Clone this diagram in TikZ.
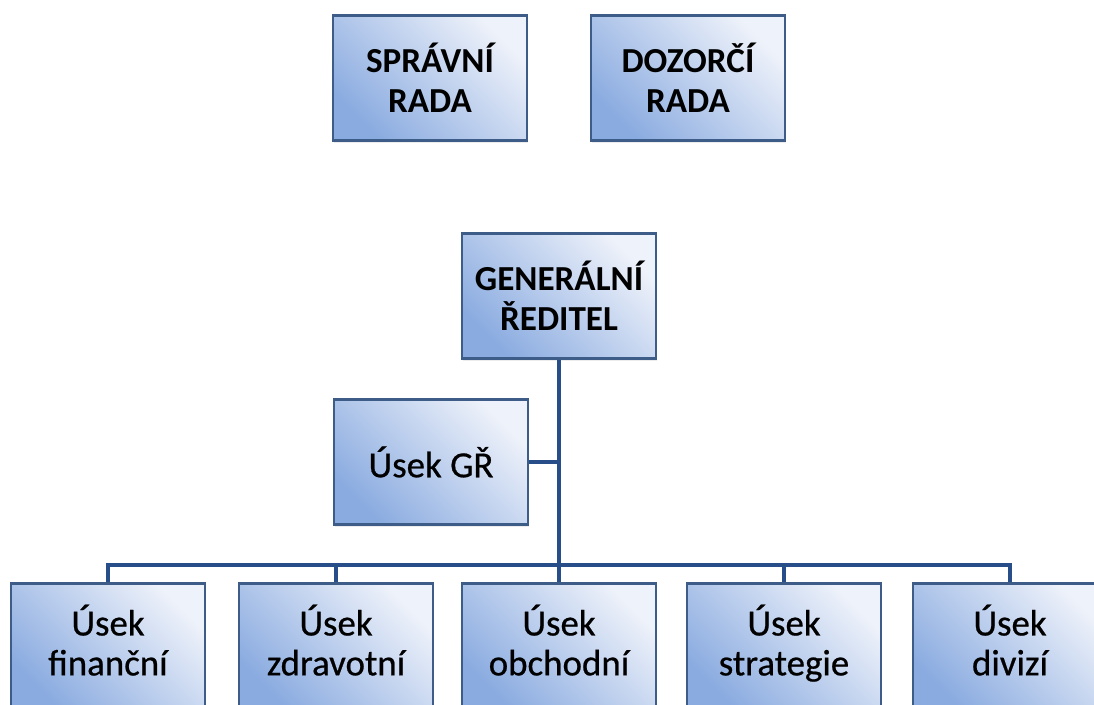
\documentclass[tikz,border=0pt]{standalone}
\usepackage{fontspec}
\setmainfont{Carlito}
\newfontfamily\unitfont{Carlito}[FakeBold=0.6]
\usepackage{tikz}
\usetikzlibrary{positioning}
\usetikzlibrary{shadows}

\definecolor{boxdark}{RGB}{138,171,224}
\definecolor{boxlight}{RGB}{238,242,250}
\definecolor{boxline}{RGB}{62,92,136}
\definecolor{orgline}{RGB}{40,78,138}

\begin{document}
\begin{tikzpicture}[x=0.02cm,y=-0.02cm,
	unit/.style={draw=boxline, line width=1.4pt, top color=boxlight, bottom color=boxdark, shading angle=-45,
		minimum width=3.88cm, minimum height=2.5cm, align=center, inner sep=0pt,
		font=\unitfont\fontsize{21}{22.7}\selectfont,
		drop shadow={opacity=0.15, shadow xshift=0.6pt, shadow yshift=-1.4pt}},
	boss/.style={unit, font=\fontsize{20}{22.7}\selectfont\bfseries},
	link/.style={draw=orgline, line width=2.3pt}]

	\useasboundingbox (0,0) rectangle (1094,704);
	\clip (0,0) rectangle (1094,704);

	%Boards
	\node[boss] (Board) at (430,78) {SPRÁVNÍ\\RADA};
	\node[boss] (Super) at (688,78) {DOZORČÍ\\RADA};

	%Director
	\node[boss] (Gen) at (559,296) {GENERÁLNÍ\\ŘEDITEL};
	\node[unit] (Staff) at (431,462) {Úsek GŘ};

	%Divisions
	\node[unit] (Fin) at (108,646) {\strut Úsek\\\strut finanční};
	\node[unit] (Zdr) at (336,646) {\strut Úsek\\\strut zdravotní};
	\node[unit] (Obch) at (559,646) {\strut Úsek\\\strut obchodní};
	\node[unit] (Strat) at (784,646) {\strut Úsek\\\strut strategie};
	\node[unit] (Div) at (1010,646) {\strut Úsek\\\strut divizí};

	\coordinate (Bus) at (559,565);

	%%%%%%%%%%%%%%%%%%%%%%%%%%%%%%%%%%%%%%%%%%%%%%%%%%%%%%%%%
	%Connectors
	\draw[link] (Gen.south) -- (Obch.north);
	\draw[link] (Staff.east) -- (Staff.east -| Gen.south);
	\draw[link] (Fin.north) |- (Bus) -| (Div.north);
	\draw[link] (Zdr.north) -- (Zdr.north |- Bus);
	\draw[link] (Strat.north) -- (Strat.north |- Bus);

\end{tikzpicture}
\end{document}
